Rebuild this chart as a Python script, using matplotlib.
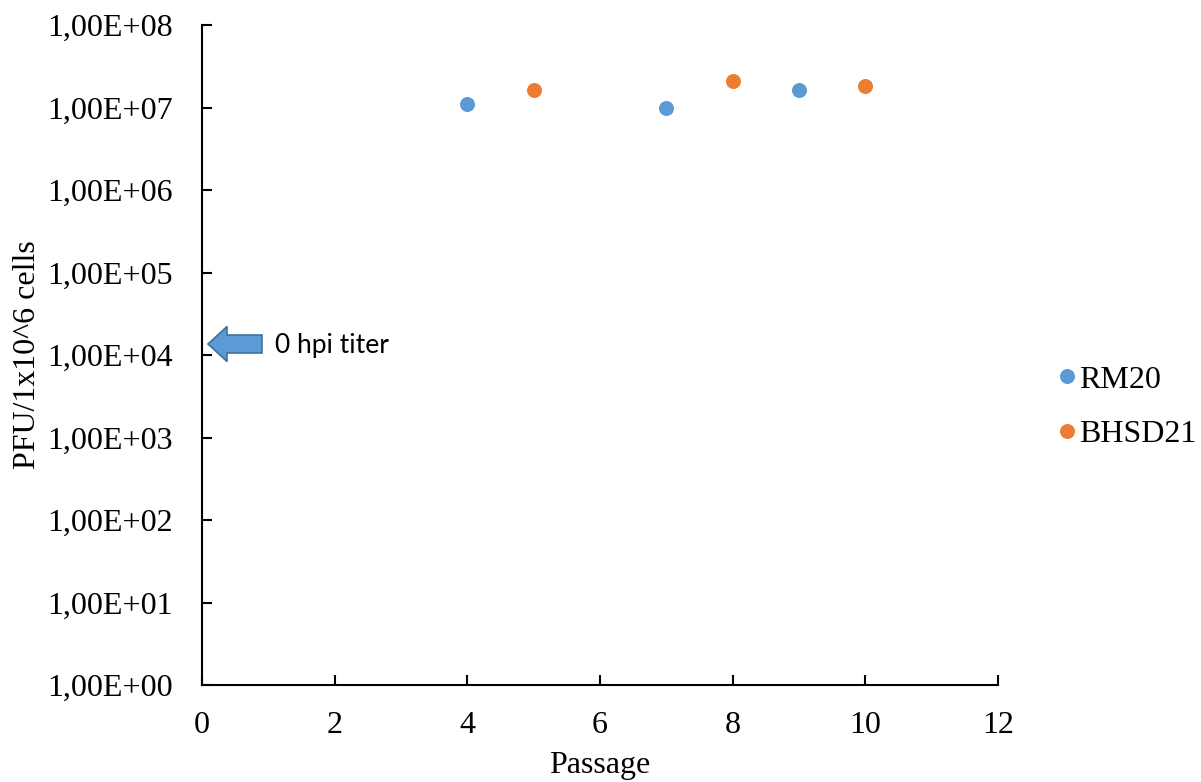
import matplotlib
matplotlib.use("Agg")
import matplotlib.pyplot as plt
import matplotlib.ticker as mticker
import matplotlib.patches as mpatches
import numpy as np

# Virus titer per passage for the two isolates
rm20_passage = [4, 7, 9]
rm20_titer = [1.09e7, 1.0e7, 1.63e7]
bhsd21_passage = [5, 8, 10]
bhsd21_titer = [1.63e7, 2.08e7, 1.81e7]

series_names = ["RM20", "BHSD21"]
x_ticks = [0, 2, 4, 6, 8, 10, 12]
y_ticks = [1e0, 1e1, 1e2, 1e3, 1e4, 1e5, 1e6, 1e7, 1e8]
arrow_label = "0 hpi titer"

BLUE = "#5B9BD5"
ORANGE = "#ED7D31"
SERIF = "Liberation Serif"
FS = 23

W, H, DPI = 1201, 782, 100
fig = plt.figure(figsize=(W / DPI, H / DPI), dpi=DPI)
ax = fig.add_axes([202 / W, 1 - 685 / H, (998 - 202) / W, (685 - 25) / H])

ax.plot(rm20_passage, rm20_titer, "o", color=BLUE, markersize=10.8,
        markeredgewidth=0, label=series_names[0])
ax.plot(bhsd21_passage, bhsd21_titer, "o", color=ORANGE, markersize=10.8,
        markeredgewidth=0, label=series_names[1])

ax.set_yscale("log")
ax.set_xlim(0, 12)
ax.set_ylim(1e0, 1e8)
ax.set_xticks(x_ticks)
ax.set_yticks(y_ticks)
ax.yaxis.set_minor_locator(mticker.NullLocator())


def sci_comma(v, pos):
    exp = int(round(np.log10(v)))
    return "1,00E+%02d" % exp


ax.yaxis.set_major_formatter(mticker.FuncFormatter(sci_comma))

for s in ("top", "right"):
    ax.spines[s].set_visible(False)
for s in ("left", "bottom"):
    ax.spines[s].set_linewidth(1.5)

ax.tick_params(axis="both", direction="in", length=7, width=1.5,
               labelsize=FS, pad=19)
ax.tick_params(axis="y", pad=21)
for lab in ax.get_xticklabels() + ax.get_yticklabels():
    lab.set_fontfamily(SERIF)

ax.set_xlabel("Passage", fontsize=FS, fontfamily=SERIF, labelpad=8)
ax.set_ylabel("PFU/1x10^6 cells", fontsize=FS, fontfamily=SERIF, labelpad=4)

# Left-pointing block arrow marking the starting titer
bw, bh = 998 - 202, 685 - 25
tip_x, cy = 6, 685 - 344
head_x, tail_x = 25, 60
head_h, shaft_h = 17.5, 9
pts = [(tip_x, cy), (head_x, cy + head_h), (head_x, cy + shaft_h),
       (tail_x, cy + shaft_h), (tail_x, cy - shaft_h), (head_x, cy - shaft_h),
       (head_x, cy - head_h)]
pts = [(px / bw, py / bh) for px, py in pts]
ax.add_patch(mpatches.Polygon(pts, closed=True, transform=ax.transAxes,
                              facecolor=BLUE, edgecolor="#41719C",
                              linewidth=1.2, clip_on=False, zorder=5))
ax.text((275 - 202) / bw, (685 - 345) / bh, arrow_label, transform=ax.transAxes,
        fontsize=19, fontfamily="Lato", va="center", ha="left")

leg = ax.legend(loc="center left", bbox_to_anchor=(1057 / W, 1 - 407 / H),
                bbox_transform=fig.transFigure, frameon=False,
                prop={"family": SERIF, "size": FS}, handlelength=0.6,
                handletextpad=0.1, labelspacing=0.78, borderaxespad=0,
                borderpad=0, numpoints=1)

fig.savefig("out.png", dpi=DPI)
